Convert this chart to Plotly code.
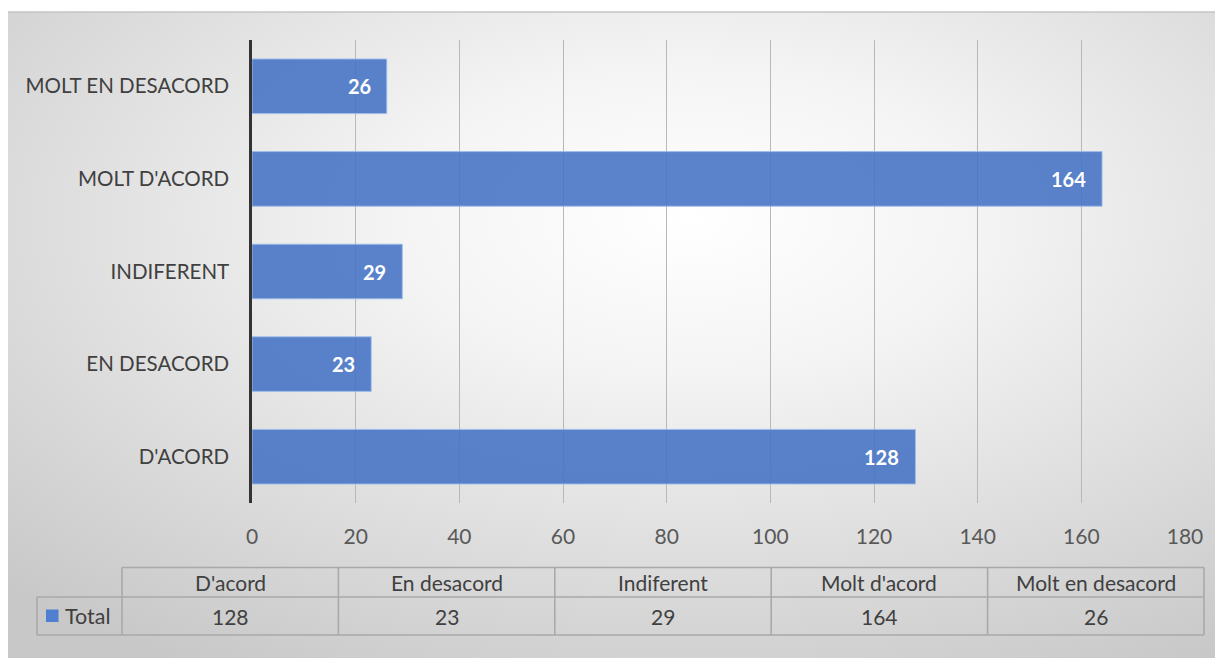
import base64
import plotly.graph_objects as go

# ---- data ----
categories = ["D'acord", "En desacord", "Indiferent", "Molt d'acord", "Molt en desacord"]
axis_labels = ["D'ACORD", "EN DESACORD", "INDIFERENT", "MOLT D'ACORD", "MOLT EN DESACORD"]
totals = [128, 23, 29, 164, 26]
series_name = "Total"
x_ticks = [0, 20, 40, 60, 80, 100, 120, 140, 160, 180]

OFF = 8  # page body margin
W, H = 1223 - OFF, 658 - OFF
ML = 252 - OFF
MT = 40 - OFF
MR = W - (1185 - OFF)
MB = H - (503 - OFF)
PW, PH = W - ML - MR, H - MT - MB


def px(x):  # screen x -> paper
    return (x - OFF - ML) / PW


def py(y):  # screen y -> paper
    return (H - MB - (y - OFF)) / PH


BAR = "rgba(68,114,196,0.88)"
TXT = "#404040"
FONT = "Lato, Open Sans, sans-serif"
GRID_LINE = "#a9a9a9"

svg = (
    '<svg xmlns="http://www.w3.org/2000/svg" width="1216" height="646" viewBox="0 0 100 100" preserveAspectRatio="none">'
    '<defs><radialGradient id="g" cx="0.56" cy="0.32" r="0.8">'
    '<stop offset="0" stop-color="#ffffff"/><stop offset="0.3" stop-color="#f4f4f4"/>'
    '<stop offset="1" stop-color="#c8c8c8"/></radialGradient></defs>'
    '<rect x="0" y="0" width="100" height="100" fill="url(#g)"/></svg>'
)
src = "data:image/svg+xml;base64," + base64.b64encode(svg.encode()).decode()

fig = go.Figure()
fig.add_trace(go.Bar(
    x=totals, y=axis_labels, orientation="h", name=series_name,
    marker=dict(color=BAR, line=dict(color="rgba(160,190,235,0.9)", width=1)),
    width=0.59, showlegend=False, hoverinfo="x+y",
))

# bar value labels (inside end)
for lab, v in zip(axis_labels, totals):
    fig.add_annotation(x=v, y=lab, xref="x", yref="y", text=f"<b>{v}</b>",
                       showarrow=False, xanchor="right", xshift=-14,
                       font=dict(family=FONT, size=20, color="white"))

# background with radial gradient
fig.add_layout_image(dict(source=src, xref="paper", yref="paper",
                          x=px(7), y=py(12), sizex=(1223 - 7) / PW, sizey=(658 - 12) / PH,
                          xanchor="left", yanchor="top", sizing="stretch", layer="below"))

shapes = []
shapes.append(dict(type="line", xref="paper", yref="paper", x0=px(7), x1=px(1223), y0=py(12), y1=py(12),
                   line=dict(color="#c4c4c4", width=1.5)))

# data table
t_left, t_right = 122, 1204
leg_left = 37
y_top, y_mid, y_bot = 567.5, 597, 635
colw = (t_right - t_left) / len(categories)
lw = dict(color=GRID_LINE, width=1.6)
for yy, x0 in [(y_top, t_left), (y_mid, leg_left), (y_bot, leg_left)]:
    shapes.append(dict(type="line", xref="paper", yref="paper", x0=px(x0), x1=px(t_right),
                       y0=py(yy), y1=py(yy), line=lw))
shapes.append(dict(type="line", xref="paper", yref="paper", x0=px(leg_left), x1=px(leg_left),
                   y0=py(y_mid), y1=py(y_bot), line=lw))
for i in range(len(categories) + 1):
    xx = t_left + i * colw
    shapes.append(dict(type="line", xref="paper", yref="paper", x0=px(xx), x1=px(xx),
                       y0=py(y_top), y1=py(y_bot), line=lw))
shapes.append(dict(type="rect", xref="paper", yref="paper", x0=px(46), x1=px(58.5),
                   y0=py(622), y1=py(609.5), fillcolor="#4f7fd0", line=dict(width=0)))

for i, (c, v) in enumerate(zip(categories, totals)):
    cx = t_left + (i + 0.5) * colw
    fig.add_annotation(x=px(cx), y=py((y_top + y_mid) / 2), xref="paper", yref="paper",
                       text=c, showarrow=False, xanchor="center", yanchor="middle",
                       font=dict(family=FONT, size=21, color=TXT))
    fig.add_annotation(x=px(cx), y=py((y_mid + y_bot) / 2), xref="paper", yref="paper",
                       text=str(v), showarrow=False, xanchor="center", yanchor="middle",
                       font=dict(family=FONT, size=21, color=TXT))
fig.add_annotation(x=px(63), y=py((y_mid + y_bot) / 2), xref="paper", yref="paper",
                   text=series_name, showarrow=False, xanchor="left", yanchor="middle",
                   font=dict(family=FONT, size=21.5, color=TXT))

fig.update_layout(
    width=W, height=H,
    margin=dict(l=ML, r=MR, t=MT, b=MB, pad=0),
    paper_bgcolor="white", plot_bgcolor="rgba(0,0,0,0)",
    shapes=shapes,
    font=dict(family=FONT, size=20, color=TXT),
    xaxis=dict(range=[0, 180], tickvals=x_ticks, ticktext=[str(t) for t in x_ticks],
               showgrid=True, gridcolor="#b8b8b8", gridwidth=1,
               zeroline=False, showline=False, ticks="", ticklabelstandoff=19,
               tickfont=dict(family=FONT, size=21, color="#595959"), fixedrange=True),
    yaxis=dict(categoryorder="array", categoryarray=axis_labels,
               showgrid=False, zeroline=False, showline=True, linecolor="#333333", linewidth=2.5,
               ticks="", ticklabelstandoff=16,
               tickfont=dict(family=FONT, size=20.5, color=TXT), fixedrange=True),
)

fig.write_html("out.html")
